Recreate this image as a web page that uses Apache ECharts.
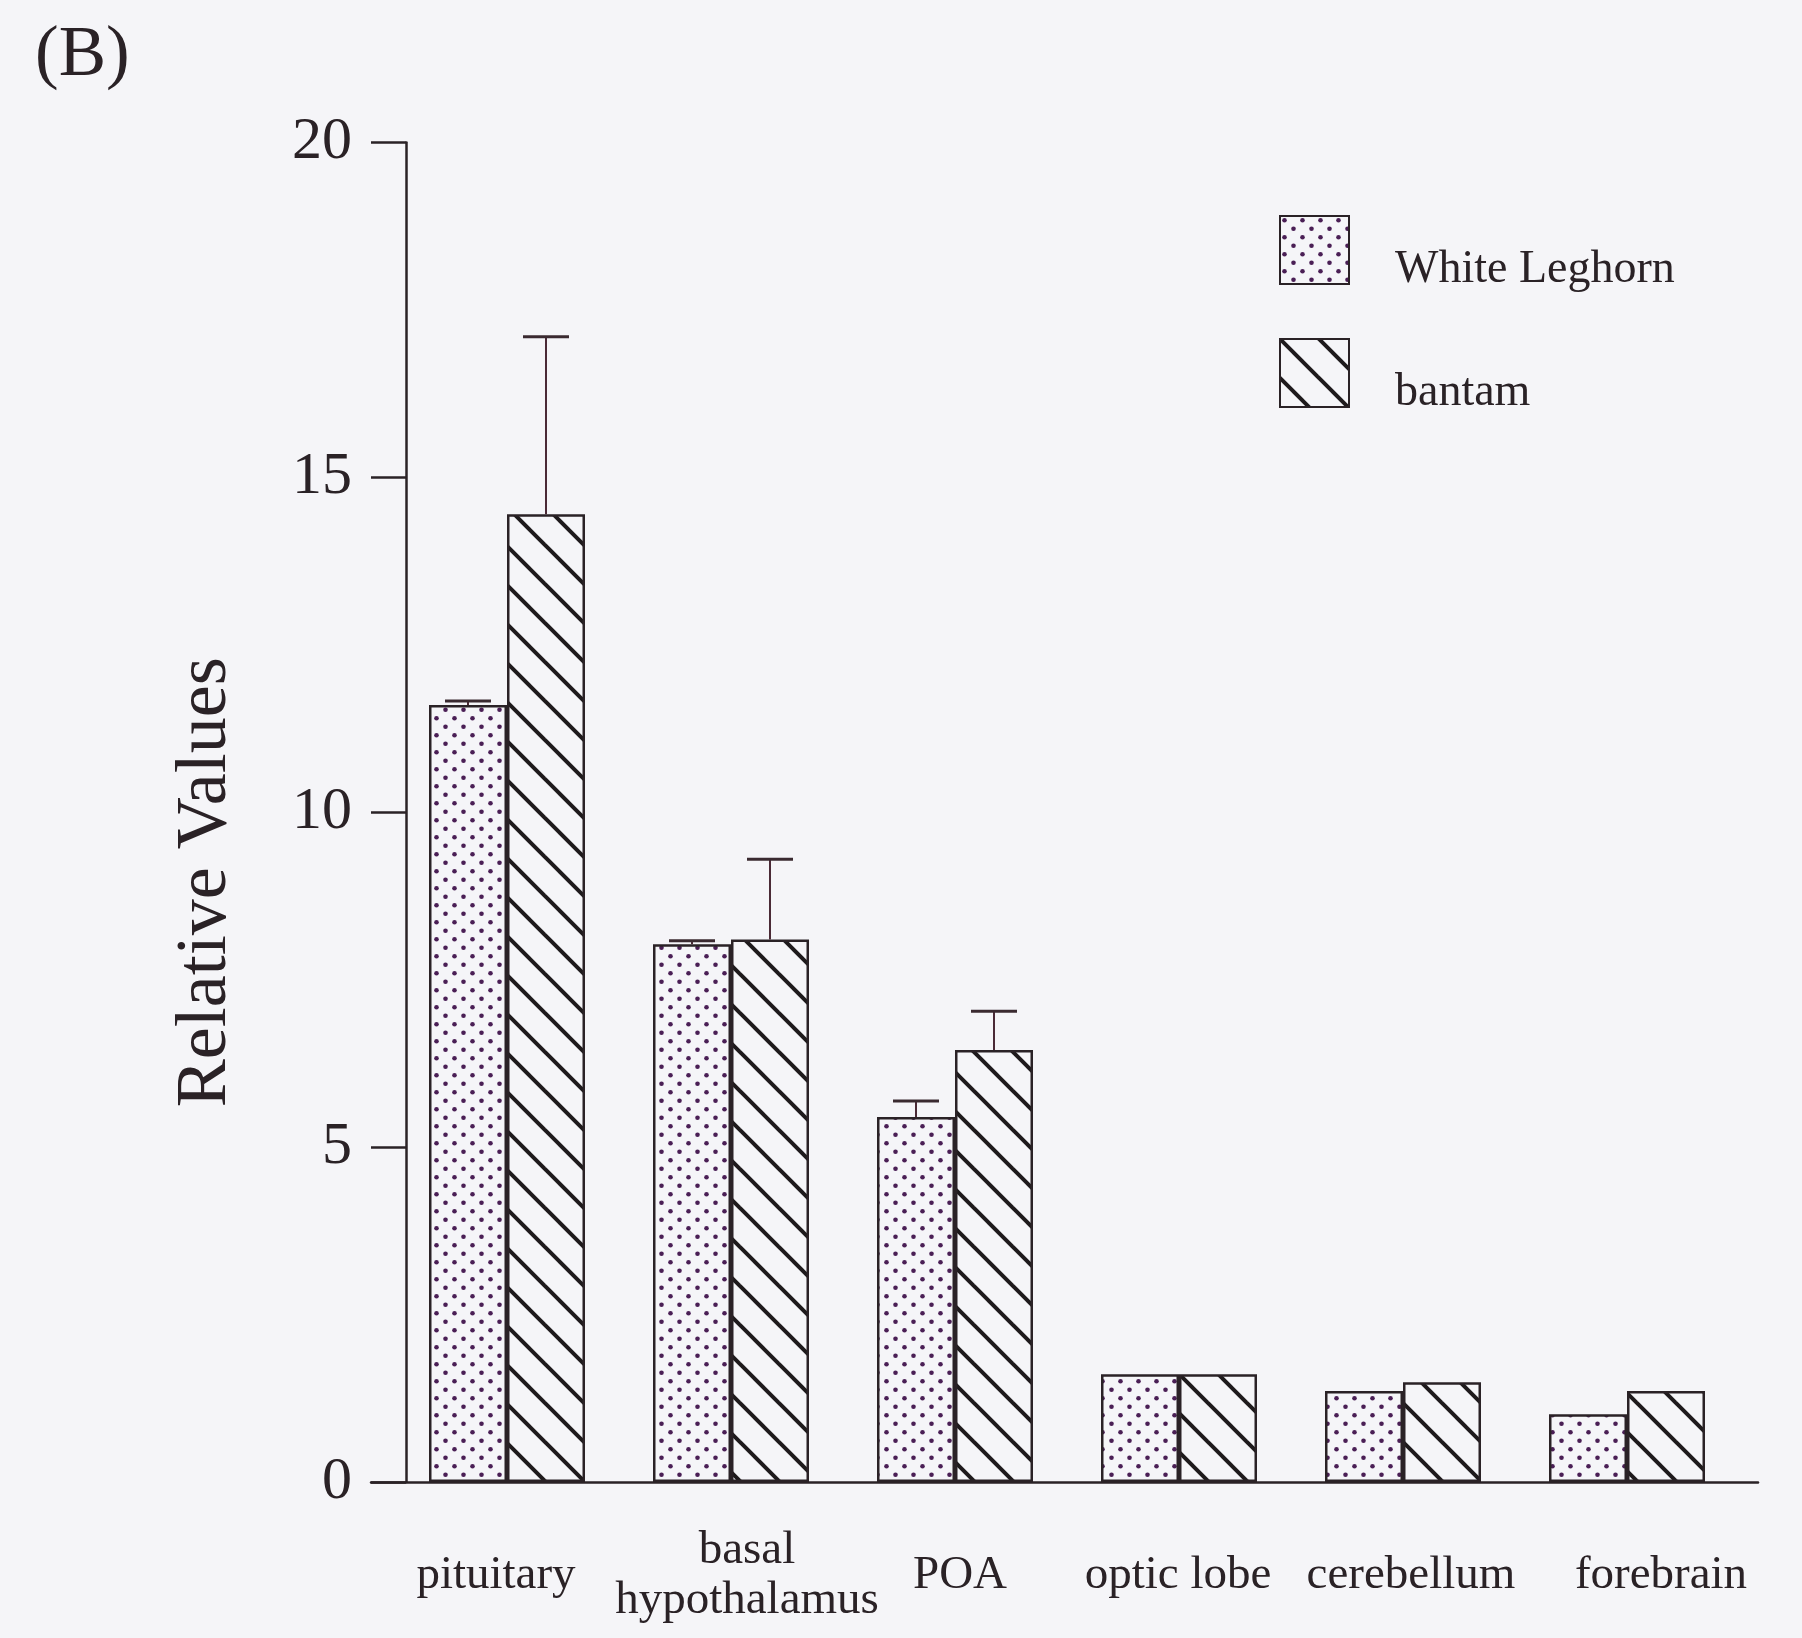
<!DOCTYPE html>
<html>
<head>
<meta charset="utf-8">
<script src="https://cdn.jsdelivr.net/npm/echarts@6/dist/echarts.min.js"></script>
<style>
  html, body { margin: 0; padding: 0; background: #f5f5f8; }
  #chart { width: 1802px; height: 1638px; }
</style>
</head>
<body>
<div id="chart"></div>
<script>
// ---- data ----
const categories = ['pituitary', 'basal\nhypothalamus', 'POA', 'optic lobe', 'cerebellum', 'forebrain'];
const leghornValues = [11.6, 8.03, 5.45, 1.61, 1.36, 1.01];
const leghornErrors = [0.06, 0.05, 0.24, 0, 0, 0];
const bantamValues = [14.45, 8.1, 6.45, 1.61, 1.49, 1.36];
const bantamErrors = [2.65, 1.2, 0.58, 0, 0, 0];
const seriesNames = ['White Leghorn', 'bantam'];
const yTicks = [0, 5, 10, 15, 20];

// ---- style ----
const BG = '#f5f5f8';
const INK = '#2a2226';
const FONT = '"Liberation Serif", "Times New Roman", serif';
const BAR_W = 78;
const CAP_W = 46;
// horizontal nudges of the category labels (px), purely cosmetic
const labelNudge = [-11, 16, 5, -1, 8, 34];

function dotPattern() {
  const c = document.createElement('canvas');
  c.width = 18; c.height = 17;
  const g = c.getContext('2d');
  g.fillStyle = BG; g.fillRect(0, 0, 18, 17);
  g.fillStyle = '#4a1f55';
  [[4.5, 4.25], [13.5, 12.75]].forEach(p => {
    g.beginPath(); g.arc(p[0], p[1], 2.3, 0, Math.PI * 2); g.fill();
  });
  return c;
}
function stripePattern() {
  const S = 39;
  const c = document.createElement('canvas');
  c.width = S; c.height = S;
  const g = c.getContext('2d');
  g.fillStyle = BG; g.fillRect(0, 0, S, S);
  g.strokeStyle = '#1e1a1c'; g.lineWidth = 4;
  [-1, 0, 1].forEach(k => {
    g.beginPath(); g.moveTo(-2, k * S - 2); g.lineTo(S + 2, S + k * S + 2); g.stroke();
  });
  return c;
}

function errSeries(values, errors, side) {
  return {
    type: 'custom',
    xAxisIndex: 0, yAxisIndex: 0,
    z: 5,
    silent: true,
    data: categories.map((c, i) => [i, values[i], errors[i]]),
    renderItem: function (params, api) {
      const v = api.value(1), e = api.value(2);
      if (!(e > 0)) return null;
      const base = api.coord([api.value(0), v]);
      const top = api.coord([api.value(0), v + e]);
      const cx = base[0] + side * BAR_W / 2;
      return {
        type: 'group',
        children: [
          { type: 'line', shape: { x1: cx, y1: base[1], x2: cx, y2: top[1] }, style: { stroke: '#4a2a36', lineWidth: 2 } },
          { type: 'line', shape: { x1: cx - CAP_W / 2, y1: top[1], x2: cx + CAP_W / 2, y2: top[1] }, style: { stroke: '#3a2a30', lineWidth: 3 } }
        ]
      };
    }
  };
}

const xLabelStyle = { fontFamily: FONT, fontSize: 47, color: INK, verticalAlign: 'middle', lineHeight: 50 };
const xData = categories.map((c, i) => {
  const s = labelNudge[i];
  return {
    value: c,
    textStyle: Object.assign({}, xLabelStyle, { padding: s >= 0 ? [0, 0, 0, 2 * s] : [0, -2 * s, 0, 0] })
  };
});

const chart = echarts.init(document.getElementById('chart'), null, { renderer: 'canvas' });
chart.setOption({
  backgroundColor: BG,
  animation: false,
  title: {
    text: '(B)', left: 30, top: 16,
    textStyle: { fontFamily: FONT, fontSize: 71, fontWeight: 'normal', color: INK }
  },
  legend: {
    data: seriesNames,
    orient: 'vertical',
    left: 1279, top: 215,
    padding: 0,
    itemWidth: 69, itemHeight: 68, itemGap: 45,
    icon: 'rect',
    formatter: '{a|{name}}',
    textStyle: {
      fontFamily: FONT, fontSize: 46, color: INK,
      rich: { a: { fontFamily: FONT, fontSize: 46, color: INK, padding: [40, 0, 0, 41] } }
    }
  },
  grid: [
    { left: 395, right: 63, top: 142.5, bottom: 156, containLabel: false, outerBoundsMode: 'none' },
    { left: 371, right: 44, top: 142.5, bottom: 156, containLabel: false, outerBoundsMode: 'none' }
  ],
  xAxis: [
    {
      type: 'category', gridIndex: 0, data: xData,
      axisLine: { show: false }, axisTick: { show: false },
      axisLabel: Object.assign({ margin: 94, interval: 0 }, xLabelStyle)
    },
    {
      type: 'value', gridIndex: 1, min: 0, max: 1,
      axisLine: { show: true, lineStyle: { color: INK, width: 2.5 } },
      axisTick: { show: false }, axisLabel: { show: false }, splitLine: { show: false }
    }
  ],
  yAxis: [
    {
      type: 'value', gridIndex: 0, min: yTicks[0], max: yTicks[yTicks.length - 1], interval: 5,
      offset: -11,
      name: 'Relative Values', nameLocation: 'middle', nameRotate: 90, nameGap: 164,
      nameTextStyle: { fontFamily: FONT, fontSize: 72, color: INK, padding: [0, 140, 0, 0] },
      axisLine: { show: true, lineStyle: { color: INK, width: 2.5 } },
      axisTick: { show: true, length: 35, lineStyle: { color: INK, width: 2.5 } },
      axisLabel: { fontFamily: FONT, fontSize: 60, color: INK, margin: 54 },
      splitLine: { show: false }
    },
    { type: 'value', gridIndex: 1, show: false, min: 0, max: 1 }
  ],
  series: [
    {
      name: seriesNames[0], type: 'bar', data: leghornValues,
      barWidth: BAR_W, barGap: '0%',
      itemStyle: { color: { image: dotPattern(), repeat: 'repeat' }, borderColor: INK, borderWidth: 2.5 }
    },
    {
      name: seriesNames[1], type: 'bar', data: bantamValues,
      barWidth: BAR_W, barGap: '0%',
      itemStyle: { color: { image: stripePattern(), repeat: 'repeat' }, borderColor: INK, borderWidth: 2.5 }
    },
    errSeries(leghornValues, leghornErrors, -1),
    errSeries(bantamValues, bantamErrors, 1)
  ]
});
</script>
</body>
</html>
